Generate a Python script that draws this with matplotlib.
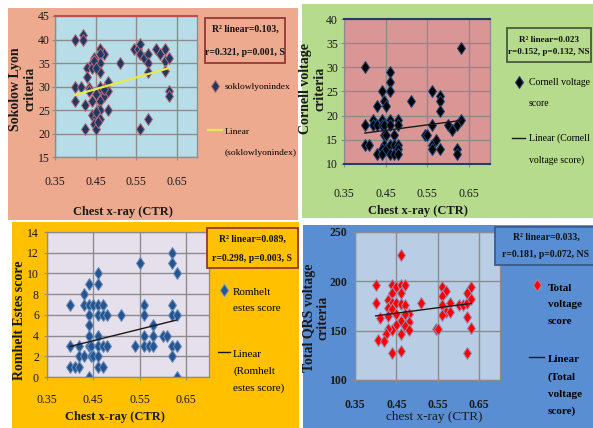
import numpy as np
import matplotlib
matplotlib.use("Agg")
import matplotlib.pyplot as plt
from matplotlib.patches import Rectangle
from matplotlib.legend import Legend
from matplotlib.legend_handler import HandlerLine2D

plt.rcParams["font.family"] = ["Liberation Serif", "DejaVu Serif"]

W, H = 593, 428

# ---- data ----
# Sokolow-Lyon criteria vs chest x-ray CTR
ctr_sl = [0.40, 0.42, 0.42, 0.46, 0.47, 0.46, 0.445, 0.44, 0.43, 0.44, 0.46, 0.46, 0.43,
          0.40, 0.415, 0.435, 0.40, 0.425, 0.44, 0.46, 0.47, 0.48, 0.48, 0.46, 0.455, 0.44,
          0.45, 0.46, 0.48, 0.445, 0.46, 0.425, 0.45, 0.51, 0.545, 0.555, 0.56, 0.56, 0.57,
          0.58, 0.58, 0.58, 0.60, 0.61, 0.62, 0.62, 0.63, 0.62, 0.63, 0.63, 0.58, 0.56,
          0.445, 0.45, 0.46, 0.47, 0.45, 0.435, 0.455, 0.45]
sl_score = [40, 41, 40, 38, 37, 37, 36, 35, 34, 34, 35, 33, 32, 30, 30, 29.6, 27, 26, 27, 29,
            28, 29, 31, 27, 25, 24, 23.6, 25, 25, 22, 23, 21, 21, 35, 38, 38, 39, 37, 36, 37,
            35, 33, 38, 37, 38, 35.4, 36, 33.2, 29, 28, 23, 21,
            35.5, 34, 30, 29.5, 28.5, 29, 22.5, 24.5]
sl_trend_x = [0.40, 0.63]
sl_trend_y = [28.2, 33.9]

# Cornell voltage criteria
ctr_cv = [0.63, 0.40, 0.46, 0.46, 0.46, 0.44, 0.445, 0.45, 0.43, 0.51, 0.56, 0.58, 0.58, 0.58,
          0.40, 0.42, 0.42, 0.43, 0.44, 0.44, 0.445, 0.46, 0.46, 0.48, 0.48, 0.445, 0.45, 0.47,
          0.445, 0.43, 0.44, 0.44, 0.45, 0.46, 0.46, 0.47, 0.47, 0.48, 0.48, 0.48, 0.40, 0.41,
          0.56, 0.545, 0.55, 0.56, 0.56, 0.57, 0.58, 0.60, 0.61, 0.62, 0.63, 0.62, 0.62]
cv_score = [34, 30, 29, 27, 25, 25, 23, 22, 22, 23, 25, 24, 23, 21, 18, 19, 18, 18, 19, 18,
            18, 19, 18, 19, 18, 16, 16, 16, 14, 12, 13, 12, 13, 14, 12, 14, 12, 14, 13, 12,
            14, 14, 18, 16, 16, 14, 13, 15, 13, 18, 17, 18, 19, 13, 12]
cv_trend_x = [0.40, 0.63]
cv_trend_y = [16.4, 19.0]

# Romhelt-Estes score
ctr_re = [0.40, 0.43, 0.43, 0.44, 0.45, 0.46, 0.47, 0.44, 0.46, 0.46, 0.44, 0.46, 0.47, 0.48,
          0.51, 0.44, 0.44, 0.46, 0.40, 0.42, 0.44, 0.445, 0.46, 0.47, 0.48, 0.42, 0.43, 0.445,
          0.45, 0.46, 0.40, 0.41, 0.42, 0.46, 0.47, 0.44, 0.55, 0.62, 0.62, 0.63, 0.56, 0.56,
          0.62, 0.62, 0.63, 0.58, 0.56, 0.58, 0.60, 0.61, 0.54, 0.56, 0.57, 0.58, 0.62, 0.63,
          0.62, 0.63]
re_score = [7, 8, 7, 7, 7, 7, 7, 9, 9, 10, 6, 6, 6, 6, 6, 5, 4, 4, 3, 3, 3, 3, 3, 3, 3, 2, 2,
            2, 2, 2, 1, 1, 1, 1, 1, 0, 11, 12, 11, 10, 7, 6, 7, 6, 6, 5, 4, 4, 4, 4, 3, 3, 3,
            3, 3, 3, 2, 0]
re_trend_x = [0.40, 0.63]
re_trend_y = [2.95, 5.5]

# Total QRS voltage criteria
ctr_tq = [0.46, 0.40, 0.40, 0.44, 0.45, 0.46, 0.47, 0.44, 0.46, 0.43, 0.44, 0.45, 0.46, 0.47,
          0.43, 0.44, 0.48, 0.47, 0.41, 0.45, 0.43, 0.46, 0.45, 0.48, 0.44, 0.47, 0.48, 0.46,
          0.43, 0.425, 0.405, 0.42, 0.44, 0.46, 0.51, 0.56, 0.57, 0.56, 0.56, 0.58, 0.57, 0.58,
          0.56, 0.545, 0.55, 0.60, 0.61, 0.62, 0.63, 0.62, 0.63, 0.62, 0.63, 0.62]
tq_score = [227, 196, 178, 196, 194, 196, 196, 188, 188, 181, 178, 178, 177, 176, 173, 172,
            167, 167, 163, 167, 165, 160, 156, 159, 151, 155, 151, 147, 152, 147, 141, 140,
            127, 129, 178, 194, 190, 185, 176, 178, 169, 169, 166, 152, 152, 176, 176, 178,
            194, 188, 182, 164, 153, 127]
tq_trend_x = [0.40, 0.63]
tq_trend_y = [165, 177.6]

x_ticks = [0.35, 0.45, 0.55, 0.65]
x_tick_labels = ["0.35", "0.45", "0.55", "0.65"]


def fx(px):
    return px / W


def fy(py):
    return 1 - py / H


def rect(x0, y0, x1, y1):
    return [fx(x0), fy(y1), (x1 - x0) / W, (y1 - y0) / H]


PANELS = [
    dict(x=ctr_sl, y=sl_score, tx=sl_trend_x, ty=sl_trend_y,
         bg="#EDAA8E", plot_bg="#B7DDE8", frame=(8, 8, 298, 220), axes=(55, 16, 197, 157),
         ylim=(15, 45), ystep=5, face="#1F3864", edge="#B86B77", trend="#E8EA4A", trend_lw=1.6,
         top_spine="#C0504D", bottom_spine=None, xpad=11.5, ypad=1.4, bold=False,
         ylabel="Sokolow Lyon\ncriteria", ylab_at=(23, 89),
         xlabel="Chest x-ray (CTR)", xlab_at=(123, 212), xlab_bold=True,
         stat="R² linear=0.103,\nr=0.321, p=0.001, S", stat_box=(205, 18, 285, 63),
         stat_at=(245, 41), stat_ls=3.0, stat_fs=7, stat_edge="#953735",
         key_fs=6.8, key_x=208, key_len=14, key_pad=3, key_pitch=23,
         mark_label="soklowlyonindex", mark_y=87,
         line_label="Linear\n(soklowlyonindex)", line_y=130),
    dict(x=ctr_cv, y=cv_score, tx=cv_trend_x, ty=cv_trend_y,
         bg="#B7DB8C", plot_bg="#D99694", frame=(302, 4, 593, 218), axes=(344, 19, 490, 164),
         ylim=(10, 40), ystep=5, face="#000000", edge="#1F497D", trend="#1A1A1A", trend_lw=1.0,
         top_spine="#1F3F6E", bottom_spine="#1F3F6E", xpad=15, ypad=2.2, bold=False,
         ylabel="Cornell voltage\ncriteria", ylab_at=(313, 89),
         xlabel="Chest x-ray (CTR)", xlab_at=(418, 211), xlab_bold=True,
         stat="R² linear=0.023\nr=0.152, p=0.132, NS", stat_box=(507, 28, 591, 62),
         stat_at=(549, 46), stat_ls=1.65, stat_fs=6.6, stat_edge="#4A5B3A",
         key_fs=7, key_x=512, key_len=13, key_pad=4, key_pitch=20,
         mark_label="Cornell voltage\nscore", mark_y=82,
         line_label="Linear (Cornell\nvoltage score)", line_y=138),
    dict(x=ctr_re, y=re_score, tx=re_trend_x, ty=re_trend_y,
         bg="#FFC000", plot_bg="#E6E0EC", frame=(12, 222, 299, 428), axes=(47, 232, 209, 377),
         ylim=(0, 14), ystep=2, face="#24558F", edge="#6B8FC0", trend="#1A1A1A", trend_lw=1.0,
         top_spine=None, bottom_spine=None, xpad=10, ypad=3.6, bold=False,
         ylabel="Romhelt Estes score", ylab_at=(20, 320),
         xlabel="Chest x-ray (CTR)", xlab_at=(115, 417), xlab_bold=True,
         stat="R² linear=0.089,\nr=0.298, p=0.003, S", stat_box=(207, 228, 298, 268),
         stat_at=(252, 249), stat_ls=2.4, stat_fs=7, stat_edge="#953735",
         key_fs=8, key_x=218, key_len=12, key_pad=3, key_pitch=18,
         mark_label="Romhelt\nestes score", mark_y=290,
         line_label="Linear\n(Romhelt\nestes score)", line_y=352),
    dict(x=ctr_tq, y=tq_score, tx=tq_trend_x, ty=tq_trend_y,
         bg="#5A8ED3", plot_bg="#B9CDE5", frame=(303, 225, 593, 428), axes=(355, 232, 500, 380),
         ylim=(100, 250), ystep=50, face="#FF0000", edge="#9A8FB5", trend="#1A1A1A", trend_lw=1.0,
         top_spine=None, bottom_spine=None, xpad=11.5, ypad=3.6, bold=True,
         ylabel="Total QRS voltage\ncriteria", ylab_at=(316, 318),
         xlabel="chest x-ray (CTR)", xlab_at=(434, 417), xlab_bold=False,
         stat="R² linear=0.033,\nr=0.181, p=0.072, NS", stat_box=(495, 227, 600, 265),
         stat_at=(546, 246), stat_ls=2.2, stat_fs=7, stat_edge="#385D8A",
         key_fs=8, key_x=529, key_len=15, key_pad=4, key_pitch=18.5,
         mark_label="Total\nvoltage\nscore", mark_y=285,
         line_label="Linear\n(Total\nvoltage\nscore)", line_y=357),
]


class FirstLineHandler(HandlerLine2D):
    """Legend key raised to sit level with the first line of a multi-line label."""

    def __init__(self, shift_pt, **kw):
        super().__init__(**kw)
        self.shift_pt = shift_pt

    def create_artists(self, *args, **kwargs):
        artists = super().create_artists(*args, **kwargs)
        for a in artists:
            a.set_ydata(np.asarray(a.get_ydata()) + self.shift_pt)
        return artists


fig = plt.figure(figsize=(W / 100, H / 100), dpi=100, facecolor="white")


def add_key(handle, label, p, y_px):
    fs = p["key_fs"]
    em = fs * 100 / 72
    asc, desc = 0.69 * em, 0.22 * em
    n = label.count("\n")
    lift = (n * p["key_pitch"] + desc) / 2  # px from block centre to first line
    leg = Legend(fig, [handle], [label], loc="center left",
                 bbox_to_anchor=(fx(p["key_x"]), fy(y_px + (lift if n else 0))),
                 bbox_transform=fig.transFigure,
                 frameon=False, borderpad=0, borderaxespad=0,
                 handlelength=p["key_len"] / em, handletextpad=p["key_pad"] / em,
                 handler_map={handle: FirstLineHandler(lift * 0.72 if n else 0)},
                 prop=dict(size=fs, weight="bold" if p["bold"] else "normal"))
    for t in leg.get_texts():
        t.set_linespacing((p["key_pitch"] - desc) / asc)
    fig.add_artist(leg)


for p in PANELS:
    x0, y0, x1, y1 = p["frame"]
    fig.add_artist(Rectangle((fx(x0), fy(y1)), (x1 - x0) / W, (y1 - y0) / H,
                             transform=fig.transFigure, facecolor=p["bg"],
                             edgecolor="none", zorder=-5))

    ax = fig.add_axes(rect(*p["axes"]))
    ax.set_facecolor(p["plot_bg"])

    pts, = ax.plot(p["x"], p["y"], linestyle="none", marker="d", markersize=6.5,
                   markerfacecolor=p["face"], markeredgecolor=p["edge"],
                   markeredgewidth=0.7, zorder=2)
    trend, = ax.plot(p["tx"], p["ty"], color=p["trend"], linewidth=p["trend_lw"], zorder=3)

    ax.set_xlim(0.35, 0.70)
    ax.set_ylim(*p["ylim"])
    ax.set_xticks(x_ticks)
    ax.set_xticklabels(x_tick_labels)
    ax.set_yticks(np.arange(p["ylim"][0], p["ylim"][1] + 0.1, p["ystep"]))
    ax.grid(True, color="#8C8C8C", linewidth=1.0)
    ax.set_axisbelow(True)

    for side in ("left", "bottom", "right", "top"):
        ax.spines[side].set_color("#8C8C8C")
        ax.spines[side].set_linewidth(0.9)
    if p["top_spine"]:
        ax.spines["top"].set_color(p["top_spine"])
        ax.spines["top"].set_linewidth(1.5)
    if p["bottom_spine"]:
        ax.spines["bottom"].set_color(p["bottom_spine"])
        ax.spines["bottom"].set_linewidth(1.5)

    weight = "bold" if p["bold"] else "normal"
    ax.tick_params(axis="both", length=2.2, width=0.8, color="#8C8C8C",
                   labelsize=8.5, labelcolor="#1A1A1A")
    ax.tick_params(axis="x", pad=p["xpad"])
    ax.tick_params(axis="y", pad=p["ypad"])
    for lbl in ax.get_xticklabels() + ax.get_yticklabels():
        lbl.set_fontweight(weight)

    ax.set_ylabel(p["ylabel"], fontsize=10, fontweight="bold", va="center",
                  linespacing=1.1, color="#1A1A1A")
    ax.yaxis.set_label_coords(fx(p["ylab_at"][0]), fy(p["ylab_at"][1]),
                              transform=fig.transFigure)
    ax.set_xlabel(p["xlabel"], fontsize=9 if p["xlab_bold"] else 9.5,
                  fontweight="bold" if p["xlab_bold"] else "normal", va="center",
                  color="#1A1A1A")
    ax.xaxis.set_label_coords(fx(p["xlab_at"][0]), fy(p["xlab_at"][1]),
                              transform=fig.transFigure)

    bx0, by0, bx1, by1 = p["stat_box"]
    fig.add_artist(Rectangle((fx(bx0), fy(by1)), (bx1 - bx0) / W, (by1 - by0) / H,
                             transform=fig.transFigure, facecolor=p["bg"],
                             edgecolor=p["stat_edge"], linewidth=1.3, zorder=5))
    fig.text(fx(p["stat_at"][0]), fy(p["stat_at"][1]), p["stat"], ha="center", va="center",
             fontsize=p["stat_fs"], fontweight="bold", linespacing=p["stat_ls"],
             color="#111111", zorder=6)

    add_key(pts, p["mark_label"], p, p["mark_y"])
    add_key(trend, p["line_label"], p, p["line_y"])

fig.savefig("out.png", dpi=100, facecolor="white")
